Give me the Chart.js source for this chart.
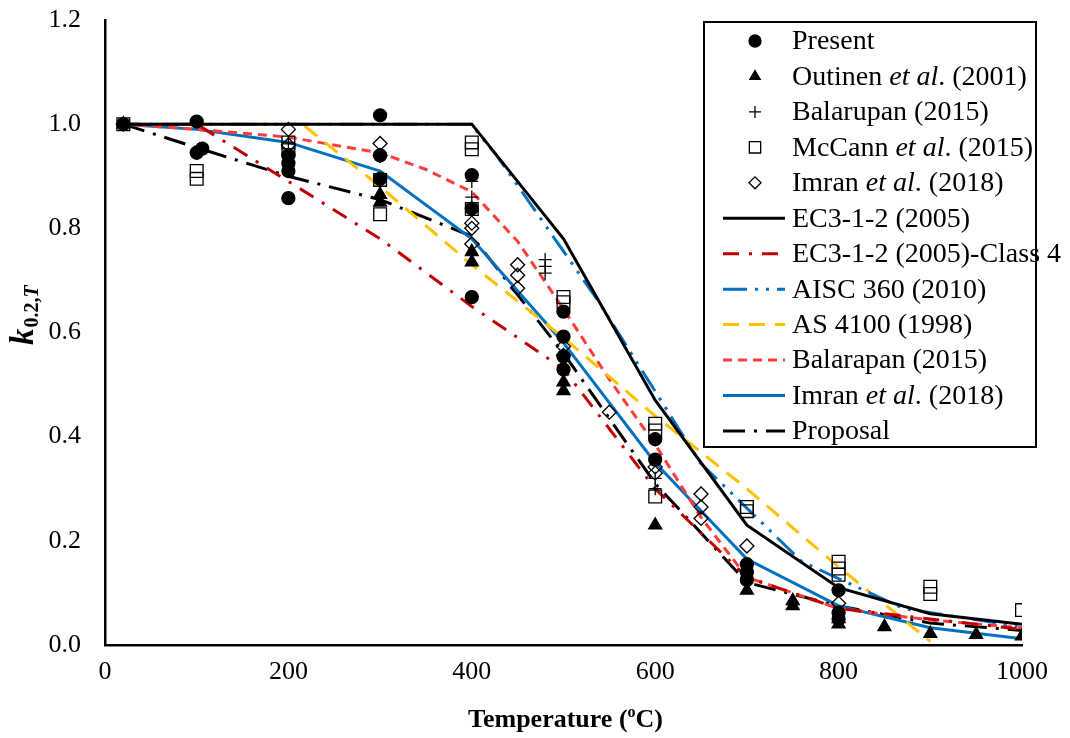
<!DOCTYPE html>
<html>
<head>
<meta charset="utf-8">
<title>k0.2,T vs temperature</title>
<script src="https://cdn.jsdelivr.net/npm/chart.js@4.4.1/dist/chart.umd.min.js"></script>
<style>
  html, body { margin: 0; padding: 0; background: #fff; }
  #kChart { display: block; }
</style>
</head>
<body>
<canvas id="kChart" width="1070" height="738"></canvas>
<script>
// test data (scatter)
const presentT = [20, 100, 100, 106, 200, 200, 200, 200, 300, 300, 300, 400, 400, 400, 500, 500, 500, 500, 600, 600, 700, 700, 700, 800, 800, 800];
const presentK = [1.0, 1.005, 0.945, 0.953, 0.94, 0.925, 0.91, 0.858, 1.017, 0.94, 0.895, 0.902, 0.838, 0.668, 0.64, 0.592, 0.554, 0.529, 0.395, 0.356, 0.155, 0.14, 0.125, 0.105, 0.062, 0.05];

const outinenT = [20, 300, 300, 400, 400, 500, 500, 600, 700, 750, 750, 800, 800, 850, 900, 950, 1000];
const outinenK = [1.0, 0.865, 0.85, 0.755, 0.735, 0.505, 0.488, 0.23, 0.105, 0.085, 0.075, 0.05, 0.04, 0.035, 0.022, 0.02, 0.017];

const balarupanT = [20, 200, 400, 400, 480, 480, 480, 600, 600, 700];
const balarupanK = [1.0, 0.965, 0.89, 0.86, 0.74, 0.727, 0.714, 0.32, 0.30, 0.13];

const mccannT = [20, 100, 100, 200, 200, 300, 300, 400, 400, 400, 500, 500, 600, 600, 600, 700, 700, 800, 800, 800, 900, 900, 1000];
const mccannK = [1.0, 0.91, 0.895, 0.965, 0.95, 0.893, 0.827, 0.965, 0.952, 0.837, 0.668, 0.658, 0.425, 0.412, 0.285, 0.265, 0.257, 0.16, 0.147, 0.135, 0.112, 0.098, 0.067];

const imranT = [20, 200, 200, 300, 300, 400, 400, 400, 450, 450, 450, 500, 500, 550, 600, 600, 650, 650, 650, 700, 800];
const imranK = [1.0, 0.99, 0.96, 0.963, 0.94, 0.81, 0.80, 0.77, 0.73, 0.71, 0.685, 0.573, 0.556, 0.447, 0.342, 0.33, 0.29, 0.265, 0.243, 0.19, 0.08];

// design curves
const ec3T = [20, 100, 200, 300, 400, 500, 600, 700, 800, 900, 1000];
const ec3K = [1.0, 1.0, 1.0, 1.0, 1.0, 0.78, 0.47, 0.23, 0.11, 0.06, 0.04];
const ec3Class4K = [1.0, 1.0, 0.89, 0.78, 0.65, 0.53, 0.30, 0.13, 0.07, 0.05, 0.03];

const aiscT = [20, 93, 204, 316, 399, 427, 538, 649, 760, 871, 982, 1000];
const aiscK = [1.0, 1.0, 1.0, 1.0, 1.0, 0.94, 0.66, 0.35, 0.16, 0.07, 0.04, 0.035];

const as4100T = [20, 100, 200, 215, 300, 400, 500, 600, 700, 800, 900];
const as4100K = [1.0, 1.0, 1.0, 1.0, 0.88, 0.73, 0.59, 0.44, 0.30, 0.15, 0.007];

const balarapanT = [20, 100, 200, 300, 350, 400, 450, 500, 550, 600, 650, 700, 800, 900, 1000];
const balarapanK = [1.0, 0.99, 0.975, 0.945, 0.913, 0.87, 0.775, 0.645, 0.51, 0.385, 0.245, 0.13, 0.07, 0.048, 0.033];

const curveT = [20, 100, 200, 300, 400, 500, 600, 700, 800, 900, 1000];
const imranCurveK = [1.0, 0.99, 0.965, 0.91, 0.78, 0.58, 0.35, 0.165, 0.075, 0.033, 0.012];
const proposalK = [1.0, 0.955, 0.90, 0.855, 0.785, 0.56, 0.31, 0.12, 0.075, 0.042, 0.028];

const xTicks = [0, 200, 400, 600, 800, 1000];
const yTicks = [0, 0.2, 0.4, 0.6, 0.8, 1.0, 1.2];

const serif = '"Liberation Serif", "Times New Roman", serif';

function pts(xs, ys) {
    return xs.map((x, i) => ({ x: x, y: ys[i] }));
}

function markerSet(label, xs, ys, style, radius, fill) {
    return {
        label: label,
        data: pts(xs, ys),
        pointStyle: style,
        pointRadius: radius,
        pointHoverRadius: radius,
        pointBackgroundColor: fill,
        pointBorderColor: '#000',
        pointBorderWidth: 1.3,
        showLine: false
    };
}

function lineSet(label, xs, ys, color, dash) {
    return {
        label: label,
        data: pts(xs, ys),
        showLine: true,
        fill: false,
        borderColor: color,
        borderWidth: 3,
        borderDash: dash,
        pointRadius: 0,
        pointHoverRadius: 0,
        tension: 0
    };
}

// markers first so they are drawn on top
const datasets = [
    markerSet('Present', presentT, presentK, 'circle', 6.5, '#000'),
    markerSet('Outinen', outinenT, outinenK, 'triangle', 7.5, '#000'),
    markerSet('Balarupan', balarupanT, balarupanK, 'cross', 6.5, 'rgba(0,0,0,0)'),
    markerSet('McCann', mccannT, mccannK, 'rect', 9, 'rgba(0,0,0,0)'),
    markerSet('Imran', imranT, imranK, 'rectRot', 7, 'rgba(0,0,0,0)'),
    lineSet('EC3-1-2 (2005)', ec3T, ec3K, '#000000', []),
    lineSet('EC3-1-2 (2005)-Class 4', ec3T, ec3Class4K, '#C00000', [16, 10, 3, 10]),
    lineSet('AISC 360 (2010)', aiscT, aiscK, '#0070C0', [24, 8, 3, 8, 3, 8]),
    lineSet('AS 4100 (1998)', as4100T, as4100K, '#FFC000', [16, 10]),
    lineSet('Balarapan (2015)', balarapanT, balarapanK, '#FF3B3B', [9, 6]),
    lineSet('Imran et al. (2018)', curveT, imranCurveK, '#0070C0', []),
    lineSet('Proposal', curveT, proposalK, '#000000', [22, 9, 3, 9])
];

// legend rows: [parts of text (text, italic)], symbol
const legendRows = [
    { parts: [['Present', false]], marker: 0 },
    { parts: [['Outinen ', false], ['et al', true], ['. (2001)', false]], marker: 1 },
    { parts: [['Balarupan (2015)', false]], marker: 2 },
    { parts: [['McCann ', false], ['et al', true], ['. (2015)', false]], marker: 3 },
    { parts: [['Imran ', false], ['et al', true], ['. (2018)', false]], marker: 4 },
    { parts: [['EC3-1-2 (2005)', false]], line: 5 },
    { parts: [['EC3-1-2 (2005)-Class 4', false]], line: 6 },
    { parts: [['AISC 360 (2010)', false]], line: 7 },
    { parts: [['AS 4100 (1998)', false]], line: 8 },
    { parts: [['Balarapan (2015)', false]], line: 9 },
    { parts: [['Imran ', false], ['et al', true], ['. (2018)', false]], line: 10 },
    { parts: [['Proposal', false]], line: 11 }
];

function drawParts(ctx, parts, x, y, size, bold) {
    let cx = x;
    parts.forEach(p => {
        ctx.font = (p[1] ? 'italic ' : '') + (bold ? 'bold ' : '') + size + 'px ' + serif;
        ctx.fillText(p[0], cx, y);
        cx += ctx.measureText(p[0]).width;
    });
    return cx;
}

const extrasPlugin = {
    id: 'extras',
    afterDraw(chart) {
        const ctx = chart.ctx;
        const area = chart.chartArea;
        ctx.save();
        ctx.fillStyle = '#000';

        // x axis title
        ctx.textBaseline = 'alphabetic';
        ctx.textAlign = 'left';
        ctx.font = 'bold 26px ' + serif;
        const w1 = ctx.measureText('Temperature (').width;
        ctx.font = 'bold 16px ' + serif;
        const w2 = ctx.measureText('o').width;
        ctx.font = 'bold 26px ' + serif;
        const w3 = ctx.measureText('C)').width;
        let tx = (area.left + area.right) / 2 - (w1 + w2 + w3) / 2 + 2;
        const ty = 727;
        ctx.fillText('Temperature (', tx, ty);
        ctx.font = 'bold 16px ' + serif;
        ctx.fillText('o', tx + w1, ty - 10);
        ctx.font = 'bold 26px ' + serif;
        ctx.fillText('C)', tx + w1 + w2, ty);

        // y axis title k0.2,T
        ctx.save();
        ctx.translate(33, 345);
        ctx.rotate(-Math.PI / 2);
        ctx.font = 'italic bold 33px ' + serif;
        ctx.fillText('k', 0, 0);
        let sx = ctx.measureText('k').width + 1;
        ctx.font = 'bold 20px ' + serif;
        ctx.fillText('0.2,', sx, 5);
        sx += ctx.measureText('0.2,').width;
        ctx.font = 'italic bold 20px ' + serif;
        ctx.fillText('T', sx, 5);
        ctx.restore();

        // legend box
        const boxL = 704, boxT = 22, boxR = 1036, boxB = 447;
        ctx.fillStyle = '#fff';
        ctx.fillRect(boxL, boxT, boxR - boxL, boxB - boxT);
        ctx.strokeStyle = '#000';
        ctx.lineWidth = 2;
        ctx.strokeRect(boxL, boxT, boxR - boxL, boxB - boxT);

        const rowY0 = 41, rowStep = 35.45;
        legendRows.forEach((row, i) => {
            const y = rowY0 + i * rowStep;
            if (row.marker !== undefined) {
                const ds = chart.data.datasets[row.marker];
                ctx.save();
                ctx.fillStyle = ds.pointBackgroundColor;
                ctx.strokeStyle = '#000';
                ctx.lineWidth = 1.3;
                Chart.helpers.drawPoint(ctx, {
                    pointStyle: ds.pointStyle,
                    radius: Math.min(ds.pointRadius, ds.pointStyle === 'rect' ? 8 : 6),
                    borderWidth: 1.3,
                    rotation: 0
                }, 755, y);
                ctx.restore();
            } else {
                const ds = chart.data.datasets[row.line];
                ctx.save();
                ctx.strokeStyle = ds.borderColor;
                ctx.lineWidth = 3;
                ctx.setLineDash(ds.borderDash);
                ctx.beginPath();
                ctx.moveTo(723, y);
                ctx.lineTo(785, y);
                ctx.stroke();
                ctx.restore();
            }
            ctx.fillStyle = '#000';
            ctx.textBaseline = 'middle';
            drawParts(ctx, row.parts, 792, y + 1, 28, false);
        });
        ctx.restore();
    }
};

// keep the plot box fixed: left 105, right 1022, top 20, bottom 645
function fixX(s) {
    s.height = 93;
    s.paddingLeft = 0;
    s.paddingRight = 0;
}
function fixY(s) {
    s.width = 105;
    s.paddingTop = 0;
    s.paddingBottom = 0;
}

const ctx = document.getElementById('kChart').getContext('2d');
const kChart = new Chart(ctx, {
    type: 'scatter',
    data: { datasets: datasets },
    options: {
        responsive: false,
        animation: false,
        devicePixelRatio: 1,
        layout: { padding: { top: 20, right: 48, left: 0, bottom: 0 } },
        plugins: {
            legend: { display: false },
            tooltip: { enabled: false }
        },
        scales: {
            x: {
                type: 'linear',
                min: 0,
                max: 1000,
                afterBuildTicks: s => { s.ticks = xTicks.map(v => ({ value: v })); },
                ticks: {
                    color: '#000',
                    font: { family: serif, size: 26 },
                    padding: 12,
                    maxRotation: 0,
                    callback: v => String(v)
                },
                grid: { display: false, drawTicks: false },
                border: { display: true, color: '#000', width: 2.5 },
                afterFit: fixX
            },
            y: {
                min: 0,
                max: 1.2,
                afterBuildTicks: s => { s.ticks = yTicks.map(v => ({ value: v })); },
                ticks: {
                    color: '#000',
                    font: { family: serif, size: 26 },
                    padding: 24,
                    callback: v => Number(v).toFixed(1)
                },
                grid: { display: false, drawTicks: false },
                border: { display: true, color: '#000', width: 2.5 },
                afterFit: fixY
            }
        }
    },
    plugins: [extrasPlugin]
});
</script>
</body>
</html>
